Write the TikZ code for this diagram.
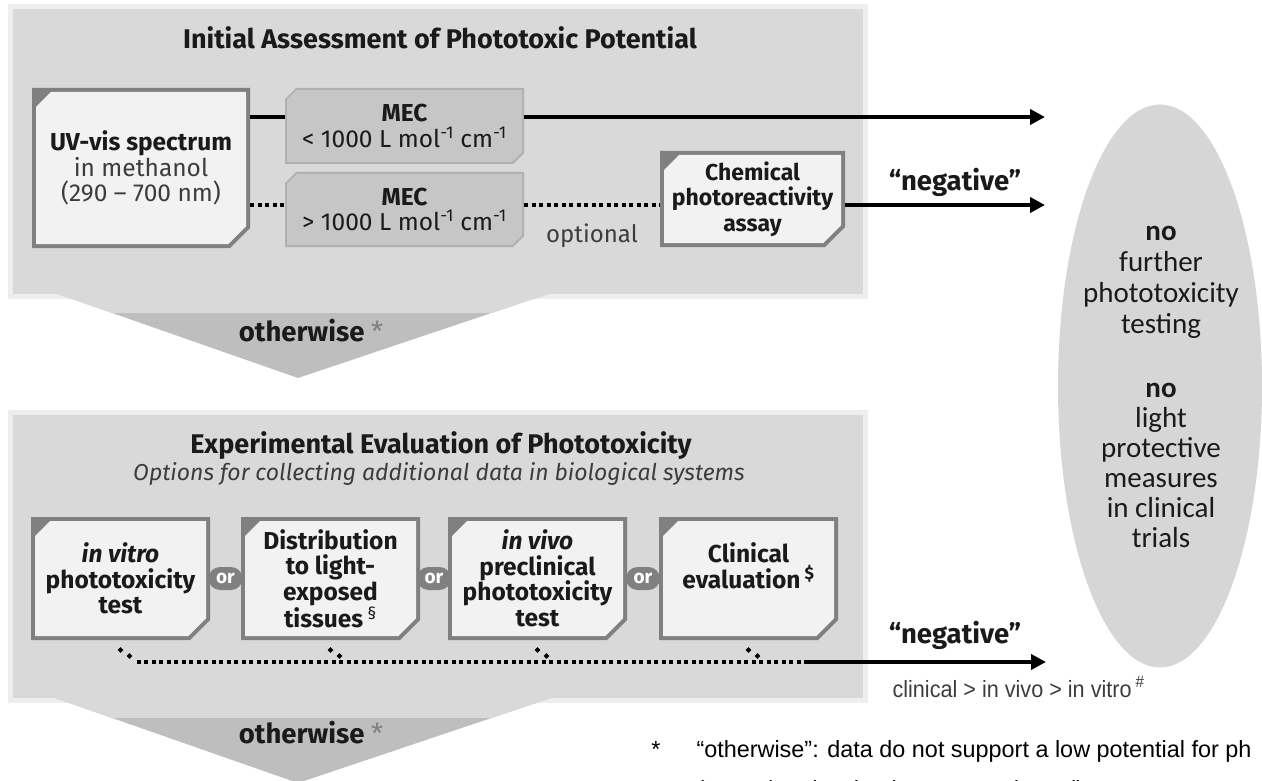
\documentclass[tikz,border=0pt]{standalone}
\usepackage{fontspec}
\setmainfont{Fira Sans}
\newfontfamily\elfont{Carlito}
\newfontfamily\arfont{Liberation Sans}
\newfontfamily\arnarrow{Liberation Sans}[FakeStretch=0.92]
\usetikzlibrary{arrows.meta,calc,shapes.geometric}
\definecolor{panel}{HTML}{D9D9D9}
\definecolor{chev}{HTML}{BEBEBE}
\definecolor{bborder}{HTML}{808080}
\definecolor{bfill}{HTML}{F2F2F2}
\definecolor{mecfill}{HTML}{C6C6C6}
\definecolor{mecborder}{HTML}{B0B0B0}
\definecolor{txt}{HTML}{1A1A1A}
\definecolor{soft}{HTML}{3C3C3C}
\definecolor{ellfill}{HTML}{D6D6D6}
\newcommand\bxfont{\fontsize{24.5}{25.5}\selectfont}
\tikzset{
 wbox/.style={rectangle, inner sep=0pt, outer sep=0pt, fill=panel, align=center, font=\bxfont\bfseries, text=txt,
  path picture={
   \fill[bborder] let \p1=(path picture bounding box.north west), \p2=(path picture bounding box.south east) in
     (\x1,\y1) -- (\x2,\y1) -- (\x2,\y2+20pt) -- (\x2-20pt,\y2) -- (\x1,\y2) -- cycle;
   \fill[bfill] let \p1=(path picture bounding box.north west), \p2=(path picture bounding box.south east) in
     (\x1+4pt,\y1-19pt) -- (\x1+19pt,\y1-4pt) -- (\x2-4pt,\y1-4pt) -- (\x2-4pt,\y2+21.7pt) -- (\x2-21.7pt,\y2+4pt) -- (\x1+4pt,\y2+4pt) -- cycle;
  }},
 mbox/.style={rectangle, inner sep=0pt, outer sep=0pt, fill=panel, align=center, font=\bxfont\bfseries, text=txt,
  path picture={
   \fill[mecborder] let \p1=(path picture bounding box.north west), \p2=(path picture bounding box.south east) in
     (\x1,\y1-11pt) -- (\x1+11pt,\y1) -- (\x2,\y1) -- (\x2,\y2+11pt) -- (\x2-11pt,\y2) -- (\x1,\y2) -- cycle;
   \fill[mecfill] let \p1=(path picture bounding box.north west), \p2=(path picture bounding box.south east) in
     (\x1+2pt,\y1-11.8pt) -- (\x1+11.8pt,\y1-2pt) -- (\x2-2pt,\y1-2pt) -- (\x2-2pt,\y2+11.8pt) -- (\x2-11.8pt,\y2+2pt) -- (\x1+2pt,\y2+2pt) -- cycle;
  }},
 orn/.style={rectangle, rounded corners=11.5pt, fill=bborder, text=white, font=\fontsize{19}{19}\selectfont\bfseries, minimum width=34pt, minimum height=23pt, inner sep=0pt},
 ln/.style={line width=4pt, black},
 dotln/.style={line width=4pt, black, dash pattern=on 4pt off 3.5pt},
 arr/.style={ln, -{Triangle[length=15pt,width=15pt]}},
 dia/.style={rectangle, rotate=45, fill=black, minimum size=4pt, inner sep=0pt},
 lbl/.style={anchor=base, text=txt},
 glow/.style={line width=5pt, draw=panel!45!white},
}
\begin{document}
\begin{tikzpicture}[x=1pt,y=-1pt]
\useasboundingbox (0,0) rectangle (1262,781);
% panels
\draw[glow, fill=panel] (10,7) rectangle (865,296);
\begin{scope}
 \clip (55,293) -- (551,293) -- (298,378) -- cycle;
 \fill[chev] (0,290) rectangle (900,400);
 \fill[panel] (0,290) rectangle (900,313);
\end{scope}
\draw[glow, fill=panel] (10,412) rectangle (865,700);
\begin{scope}
 \clip (55,698) -- (551,698) -- (298,783) -- cycle;
 \fill[chev] (0,695) rectangle (900,800);
 \fill[panel] (0,695) rectangle (900,718);
\end{scope}
\node[ellipse, fill=ellfill, minimum width=204pt, minimum height=563pt, inner sep=0pt] (ell) at (1160,386) {};

% titles
\node[lbl, font=\fontsize{27}{30}\selectfont\bfseries] (t1) at (440,49) {Initial Assessment of Phototoxic Potential};
\node[lbl, font=\fontsize{27}{30}\selectfont\bfseries] (t2) at (441,453) {Experimental Evaluation of Phototoxicity};
\node[lbl, font=\fontsize{23}{26}\selectfont\itshape, text=soft] (t2s) at (439,480) {Options for collecting additional data in biological systems};

% top boxes
\node[wbox, minimum width=218pt, minimum height=160pt] (uv) at (141,168) {UV-vis spectrum\\{\mdseries\color{soft}in methanol}\\{\mdseries\color{soft}(290 -- 700 nm)}};
\node[mbox, minimum width=239pt, minimum height=76pt] (mec1) at (404.5,126) {MEC\\{\mdseries < 1000 L mol\textsuperscript{-1} cm\textsuperscript{-1}}};
\node[mbox, minimum width=239pt, minimum height=75pt] (mec2) at (404.5,209.5) {MEC\\{\mdseries > 1000 L mol\textsuperscript{-1} cm\textsuperscript{-1}}};
\node[wbox, minimum width=185pt, minimum height=96pt, font=\fontsize{23}{25.5}\selectfont\bfseries] (chem) at (752.5,199) {Chemical\\photoreactivity\\assay};

\coordinate (end1) at (1045,117);
\coordinate (end2) at (1045,205);
\draw[ln] (uv.east |- end1) -- (mec1.west |- end1);
\draw[arr] (mec1.east |- end1) -- (end1);
\draw[dotln] (uv.east |- end2) -- (mec2.west |- end2);
\draw[dotln] (mec2.east |- end2) -- (chem.west |- end2);
\draw[arr] (chem.east |- end2) -- (end2);
\node[lbl, font=\fontsize{24}{26}\selectfont, text=soft] (opt) at (592,243) {optional};
\node[lbl, font=\fontsize{27.5}{30}\selectfont\bfseries] (neg1) at (955,190) {“negative”};
\node[lbl, font=\fontsize{27.5}{30}\selectfont\bfseries] (ow1) at (311,341) {otherwise {\mdseries\color{gray}*}};

% lower boxes
\node[wbox, minimum width=179pt, minimum height=123pt] (b1) at (120.5,578.5) {{\itshape in vitro}\\phototoxicity\\test};
\node[wbox, minimum width=179pt, minimum height=123pt] (b2) at (330.5,578.5) {Distribution\\to light-\\exposed\\tissues\,\textsuperscript{\mdseries\S}};
\node[wbox, minimum width=179pt, minimum height=123pt] (b3) at (537.5,578.5) {{\itshape in vivo}\\preclinical\\phototoxicity\\test};
\node[wbox, minimum width=179pt, minimum height=123pt] (b4) at (748.5,578.5) {Clinical\\evaluation\,\textsuperscript{\$}\\\mbox{}};
\node[orn] (or1) at ($(b1.east)!0.5!(b2.west)$) {or};
\node[orn] (or2) at ($(b2.east)!0.5!(b3.west)$) {or};
\node[orn] (or3) at ($(b3.east)!0.5!(b4.west)$) {or};

\coordinate (dsol) at (808,662);
\coordinate (negend) at (1046,662);
\draw[dotln] ($(b1.south)+(16,22)$) -- (dsol);
\draw[arr] (dsol) -- (negend);
\foreach \b in {b1,b2,b3,b4}{
  \node[dia] at ($(\b.south)+(0,10)$) {};
  \node[dia] at ($(\b.south)+(9,16)$) {};
}
\node[lbl, font=\fontsize{27.5}{30}\selectfont\bfseries] (neg2) at (955,643) {“negative”};
\node[anchor=base west, font=\arnarrow\fontsize{23.5}{26}\selectfont, text=soft] (rank) at (889,697) {clinical > in vivo > in vitro\,\textsuperscript{\#}};
\node[lbl, font=\fontsize{27.5}{30}\selectfont\bfseries] (ow2) at (311,743) {otherwise {\mdseries\color{gray}*}};

% ellipse text
\node[lbl, align=center, font=\elfont\fontsize{29}{31}\selectfont] (e1) at (1161,333) {\textbf{no}\\further\\phototoxicity\\testing};
\node[lbl, align=center, font=\elfont\fontsize{29}{30}\selectfont] (e2) at (1161,547) {\textbf{no}\\light\\protective\\measures\\in clinical\\trials};

% footnote
\node[lbl, font=\arfont\fontsize{23.4}{28}\selectfont, text=black] (fn) at (656,757) {*};
\node[anchor=base west, font=\arfont\fontsize{23.4}{28}\selectfont, text=black] (fnt) at (693,757) {“otherwise”: data do not support a low potential for ph};
\node[anchor=base west, font=\arfont\fontsize{23.4}{28}\selectfont, text=black] (fnt2) at (693,797) {(assay/test/evaluation not conducted)};
\end{tikzpicture}
\end{document}
